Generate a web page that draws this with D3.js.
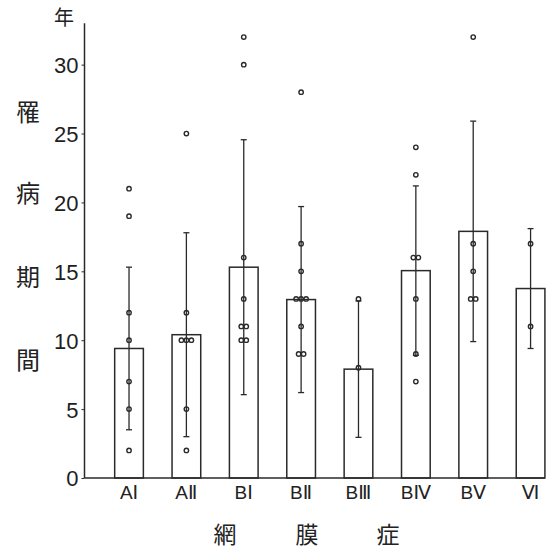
<!DOCTYPE html>
<html>
<head>
<meta charset="utf-8">
<script src="https://cdn.jsdelivr.net/npm/d3@7"></script>
<style>
  body { margin: 0; background: #fff; }
  text { fill: #222; }
</style>
</head>
<body>
<script>
// categories (網膜症 grades)
let categories = ['AⅠ', 'AⅡ', 'BⅠ', 'BⅡ', 'BⅢ', 'BⅣ', 'BⅤ', 'Ⅵ']
// mean duration (years) and standard deviation
let means = [9.4, 10.4, 15.3, 12.95, 7.9, 15.05, 17.9, 13.75]
let sds = [5.9, 7.4, 9.25, 6.75, 4.95, 6.15, 8.0, 4.35]
// individual cases
let points = [
  [21, 19, 12, 10, 7, 5, 2],
  [25, 12, 10, 10, 10, 5, 2],
  [32, 30, 16, 13, 11, 11, 10, 10],
  [28, 17, 15, 13, 13, 13, 11, 9, 9],
  [13, 8],
  [24, 22, 16, 16, 13, 9, 7],
  [32, 17, 15, 13, 13],
  [17, 11]
]
let yTicks = [0, 5, 10, 15, 20, 25, 30]
let yLabelChars = ['罹', '病', '期', '間']
let xLabelChars = ['網', '膜', '症']

let width = 548
let height = 553
let ink = '#2a2a2a'

let svg = d3.select('body').append('svg')
  .attr('width', width)
  .attr('height', height)

//scales
let xScale = d3.scaleBand()
  .domain(categories)
  .range([86, 573.6])
  .padding(0.5)
let yScale = d3.scaleLinear().domain([0, 33]).range([478, 23.3])

let x0 = 84.5
let xEnd = xScale(categories[categories.length - 1]) + xScale.bandwidth()

// y axis
let yAxis = d3.axisLeft(yScale).tickValues(yTicks).tickSize(3).tickSizeOuter(0)
let gy = svg.append('g').attr('transform', `translate(${x0},0)`).call(yAxis)
gy.select('.domain').remove()
gy.selectAll('line').attr('stroke', ink)
gy.selectAll('text')
  .attr('x', -6)
  .attr('dy', '0.36em')
  .style('font-family', 'Liberation Sans, Arial, sans-serif')
  .style('font-size', '22px')
  .style('fill', '#1e1e1e')
svg.append('line')
  .attr('x1', x0).attr('x2', x0)
  .attr('y1', yScale(33)).attr('y2', yScale(0))
  .attr('stroke', ink).attr('stroke-width', 1.5)

// x axis line
svg.append('line')
  .attr('x1', x0).attr('x2', xEnd)
  .attr('y1', yScale(0)).attr('y2', yScale(0))
  .attr('stroke', ink).attr('stroke-width', 1.5)

// bars
svg.selectAll('rect.bar')
  .data(categories)
  .enter()
  .append('rect')
  .attr('class', 'bar')
  .attr('x', d => xScale(d))
  .attr('width', xScale.bandwidth())
  .attr('y', (d, i) => yScale(means[i]))
  .attr('height', (d, i) => yScale(0) - yScale(means[i]))
  .attr('fill', 'none')
  .attr('stroke', ink)
  .attr('stroke-width', 1.5)

// error bars
let cx = d => xScale(d) + xScale.bandwidth() / 2
let err = svg.selectAll('g.err')
  .data(categories)
  .enter()
  .append('g')
  .attr('class', 'err')
err.append('line')
  .attr('x1', cx).attr('x2', cx)
  .attr('y1', (d, i) => yScale(means[i] + sds[i]))
  .attr('y2', (d, i) => yScale(means[i] - sds[i]))
  .attr('stroke', ink).attr('stroke-width', 1.3)
err.selectAll('line.cap')
  .data((d, i) => [means[i] + sds[i], means[i] - sds[i]].map(v => ({ d, v })))
  .enter()
  .append('line')
  .attr('class', 'cap')
  .attr('x1', p => cx(p.d) - 3).attr('x2', p => cx(p.d) + 3)
  .attr('y1', p => yScale(p.v)).attr('y2', p => yScale(p.v))
  .attr('stroke', ink).attr('stroke-width', 1.3)

// dots, duplicates spread side by side
let dots = []
categories.forEach((c, i) => {
  let groups = d3.group(points[i], v => v)
  groups.forEach((vals, v) => {
    vals.forEach((_, k) => {
      dots.push({ c, v, off: (k - (vals.length - 1) / 2) * 5 })
    })
  })
})
svg.selectAll('circle')
  .data(dots)
  .enter()
  .append('circle')
  .attr('cx', d => cx(d.c) + d.off)
  .attr('cy', d => yScale(d.v))
  .attr('r', 2.2)
  .attr('fill', 'none')
  .attr('stroke', ink)
  .attr('stroke-width', 1.4)

// category labels
svg.selectAll('text.cat')
  .data(categories)
  .enter()
  .append('text')
  .attr('class', 'cat')
  .attr('x', cx)
  .attr('y', 499)
  .attr('text-anchor', 'middle')
  .style('font-family', 'Liberation Sans, DejaVu Sans, sans-serif')
  .style('font-size', '19px')
  .text(d => d)

// axis titles
let cjk = '"Noto Sans CJK JP", sans-serif'
svg.append('text')
  .attr('x', 64).attr('y', 25)
  .attr('text-anchor', 'middle')
  .style('font-family', cjk)
  .style('font-size', '20px')
  .text('年')
svg.selectAll('text.ylab')
  .data(yLabelChars)
  .enter()
  .append('text')
  .attr('class', 'ylab')
  .attr('x', 28)
  .attr('y', (d, i) => [112, 193, 277, 360][i])
  .attr('dy', '0.36em')
  .attr('text-anchor', 'middle')
  .style('font-family', cjk)
  .style('font-size', '24px')
  .text(d => d)
svg.selectAll('text.xlab')
  .data(xLabelChars)
  .enter()
  .append('text')
  .attr('class', 'xlab')
  .attr('x', (d, i) => [225, 307, 388][i])
  .attr('y', 543)
  .attr('text-anchor', 'middle')
  .style('font-family', cjk)
  .style('font-size', '23px')
  .text(d => d)
</script>
</body>
</html>
